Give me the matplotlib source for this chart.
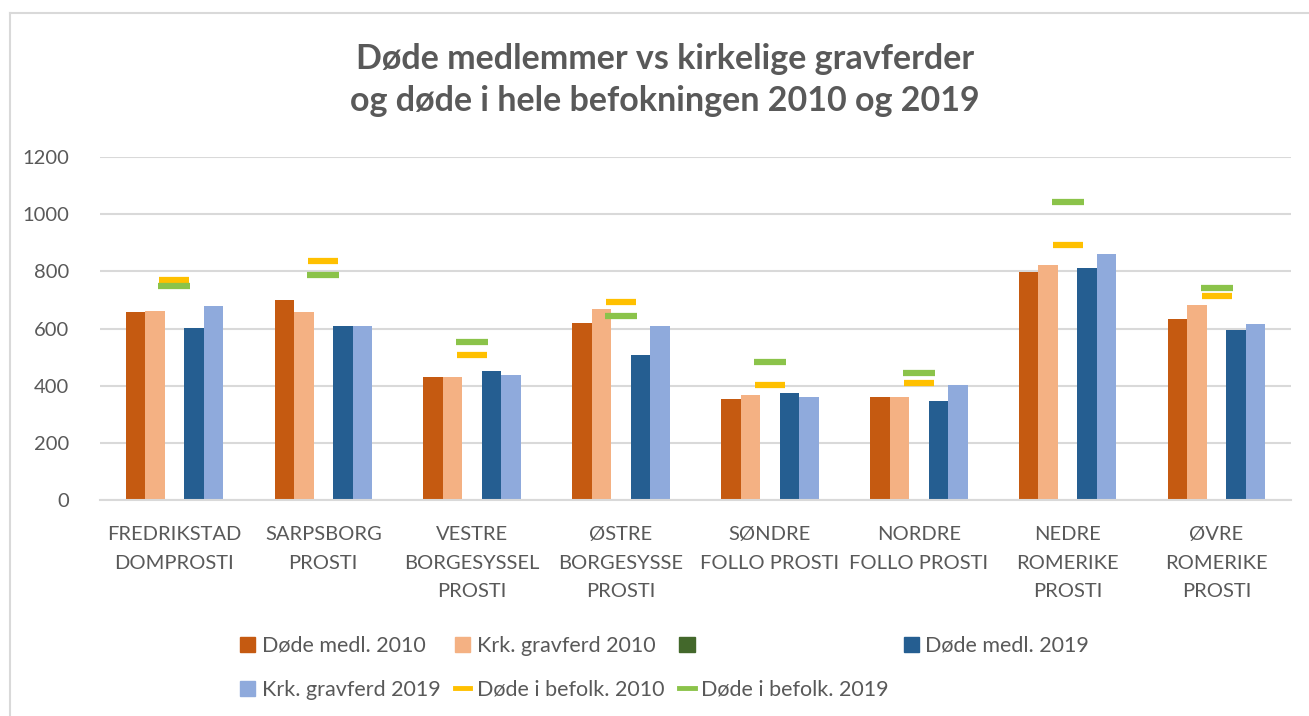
import numpy as np
import matplotlib
matplotlib.use("Agg")
from matplotlib import pyplot as plt
from matplotlib.lines import Line2D
from matplotlib.patches import Patch

plt.rcParams['font.family'] = ['Lato', 'DejaVu Sans']

# data
prosti = ["FREDRIKSTAD\nDOMPROSTI", "SARPSBORG\nPROSTI", "VESTRE\nBORGESYSSEL\nPROSTI",
          "ØSTRE\nBORGESYSSE\nPROSTI", "SØNDRE\nFOLLO PROSTI", "NORDRE\nFOLLO PROSTI",
          "NEDRE\nROMERIKE\nPROSTI", "ØVRE\nROMERIKE\nPROSTI"]
dode_medl_2010 = [658, 700, 432, 620, 352, 359, 799, 634]
krk_gravferd_2010 = [660, 656, 432, 669, 366, 359, 821, 681]
dode_medl_2019 = [602, 609, 451, 508, 374, 347, 813, 596]
krk_gravferd_2019 = [677, 607, 437, 609, 359, 403, 862, 617]
dode_befolk_2010 = [770, 835, 507, 694, 401, 410, 891, 714]
dode_befolk_2019 = [749, 787, 554, 642, 483, 445, 1043, 741]

grey = "#595959"
c_do10 = "#c55a11"
c_kr10 = "#f4b183"
c_empty = "#43682b"
c_do19 = "#255e91"
c_kr19 = "#8faadc"
c_be10 = "#ffc000"
c_be19 = "#8bc34a"

fig = plt.figure(figsize=(13.09, 7.16), dpi=100)
ax = fig.add_axes([100/1309, 1 - 500/716, 1191/1309, 343/716])

x = np.arange(len(prosti))
w = 0.131
ax.bar(x - 2*w, dode_medl_2010, w, color=c_do10)
ax.bar(x - w, krk_gravferd_2010, w, color=c_kr10)
ax.bar(x + w, dode_medl_2019, w, color=c_do19)
ax.bar(x + 2*w, krk_gravferd_2019, w, color=c_kr19)
ax.plot(x, dode_befolk_2010, ls="none", marker="_", ms=22, mew=4.5, color=c_be10)
ax.plot(x, dode_befolk_2019, ls="none", marker="_", ms=23, mew=4.5, color=c_be19)

ax.set_xlim(-0.5, len(prosti) - 0.5)
ax.set_ylim(0, 1200)
ax.set_yticks(range(0, 1201, 200))
ax.set_xticks(x)
ax.set_xticklabels(prosti, linespacing=1.8)
ax.tick_params(axis="both", length=0, labelsize=14.5, colors=grey)
ax.tick_params(axis="y", pad=22)
ax.tick_params(axis="x", pad=19)
ax.grid(axis="y", color="#d9d9d9", lw=1.5)
ax.set_axisbelow(True)
for s in ["top", "right", "left"]:
    ax.spines[s].set_visible(False)
ax.spines["bottom"].set_color("#d9d9d9")
ax.spines["bottom"].set_linewidth(1.5)

fig.text(0.508, 1 - 80/716, "Døde medlemmer vs kirkelige gravferder\nog døde i hele befokningen 2010 og 2019",
         ha="center", va="center", fontsize=24.5, fontweight="bold", color=grey, linespacing=1.35)

# legend, two rows (column-major order for matplotlib)
handles = [
    Patch(color=c_do10), Patch(color=c_kr19),
    Patch(color=c_kr10), Line2D([], [], color=c_be10, lw=3.5),
    Patch(color=c_empty), Line2D([], [], color=c_be19, lw=3.5),
    Patch(color=c_do19),
]
labels = ["Døde medl. 2010", "Krk. gravferd 2019",
          "Krk. gravferd 2010", "Døde i befolk. 2010",
          " " * 28, "Døde i befolk. 2019",
          "Døde medl. 2019"]
leg = fig.legend(handles, labels, ncol=4, loc="upper left", bbox_to_anchor=(240/1309, 1 - 636/716),
                 frameon=False, fontsize=15.5, handlelength=0.7, handleheight=0.7, handletextpad=0.3,
                 columnspacing=0.7, labelspacing=1.1, borderpad=0, borderaxespad=0)
for t in leg.get_texts():
    t.set_color(grey)

# chart border
fig.add_artist(Line2D([10/1309, 1], [1 - 13/716, 1 - 13/716], color="#d9d9d9", lw=1.5))
fig.add_artist(Line2D([10/1309, 10/1309], [0, 1 - 13/716], color="#d9d9d9", lw=1.5))

fig.savefig("out.png", dpi=100)
